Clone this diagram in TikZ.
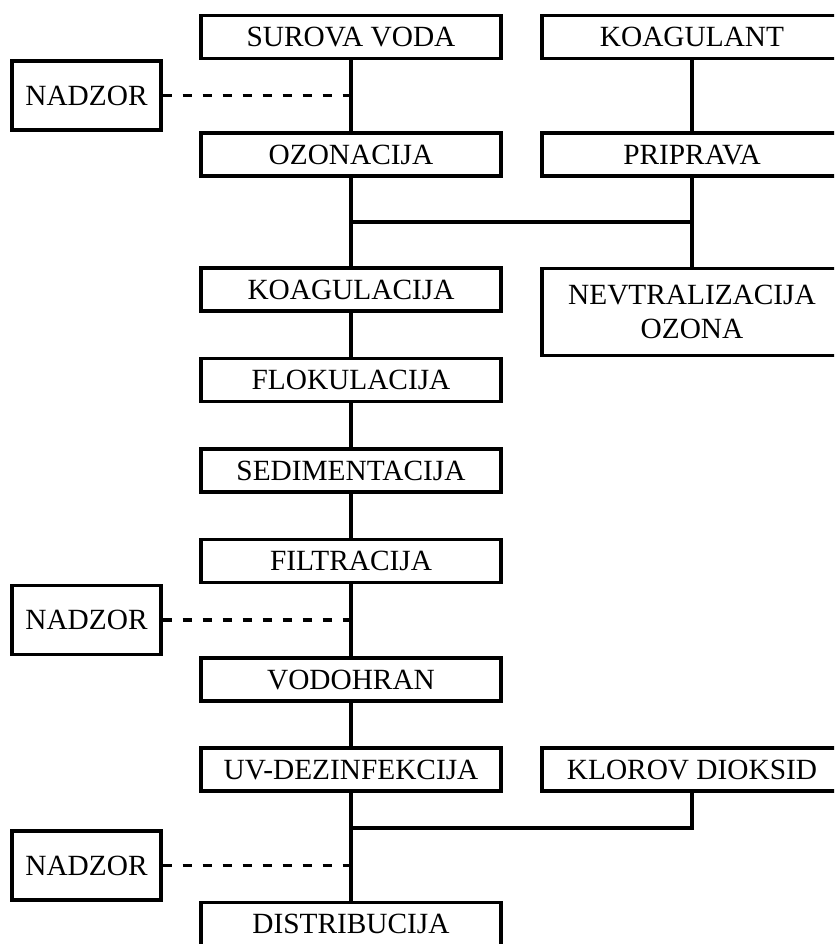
\documentclass[tikz,border=0pt]{standalone}
\usepackage{fontspec}
\setmainfont{Liberation Serif}
\begin{document}
\begin{tikzpicture}[x=0.75pt,y=-0.75pt,
  every node/.style={font=\fontsize{22pt}{25.5pt}\selectfont},
  conn/.style={line width=2.4pt},
  dashconn/.style={line width=2.4pt, dash pattern=on 7.1pt off 7.9pt},
  box/.style={draw, line width=2.4pt, rectangle, inner sep=0pt,
    minimum width=225pt, minimum height=32.25pt, text height=14.4pt, text depth=0pt},
  nbox/.style={draw, line width=2.4pt, rectangle, inner sep=0pt,
    minimum width=111.75pt, minimum height=51.75pt, text height=14.4pt, text depth=0pt},
  tallbox/.style={draw, line width=2.4pt, rectangle, inner sep=0pt,
    minimum width=225pt, minimum height=65.25pt, align=center}
]
\useasboundingbox (0,0) rectangle (834,944);
\clip (0,0) rectangle (834,944);

\node[box] (sur) at (351,37) {SUROVA VODA};
\node[box] (koagt) at (692,37) {KOAGULANT};
\node[nbox] (nad1) at (86.5,95.5) {NADZOR};
\node[box] (oz) at (351,154.5) {OZONACIJA};
\node[box] (prip) at (692,154.5) {PRIPRAVA};
\node[box] (koag) at (351,289.5) {KOAGULACIJA};
\node[tallbox] (nev) at (692,312) {NEVTRALIZACIJA\\OZONA};
\node[box] (flok) at (351,380) {FLOKULACIJA};
\node[box] (sed) at (351,470.5) {SEDIMENTACIJA};
\node[box] (filt) at (351,561) {FILTRACIJA};
\node[nbox] (nad2) at (86.5,620) {NADZOR};
\node[box] (vod) at (351,679.5) {VODOHRAN};
\node[box] (uv) at (351,769.5) {UV-DEZINFEKCIJA};
\node[box] (klor) at (692,769.5) {KLOROV DIOKSID};
\node[nbox] (nad3) at (86.5,865.5) {NADZOR};
\node[box] (dist) at (351,924) {DISTRIBUCIJA};

\coordinate (j1) at (351,222);
\coordinate (j2) at (351,828);

\draw[conn] (sur) -- (oz);
\draw[conn] (koagt) -- (prip);
\draw[conn] (oz) -- (koag);
\draw[conn] (prip) -- (nev);
\draw[conn] (j1) -- (j1 -| prip.south);
\draw[conn] (koag) -- (flok);
\draw[conn] (flok) -- (sed);
\draw[conn] (sed) -- (filt);
\draw[conn] (filt) -- (vod);
\draw[conn] (vod) -- (uv);
\draw[conn] (uv) -- (dist);
\draw[conn] (klor.south) |- (j2);

\draw[dashconn] (nad1.east) -- (nad1.east -| oz.north);
\draw[dashconn] (nad2.east) -- (nad2.east -| oz.north);
\draw[dashconn] (nad3.east) -- (nad3.east -| oz.north);
\end{tikzpicture}
\end{document}
